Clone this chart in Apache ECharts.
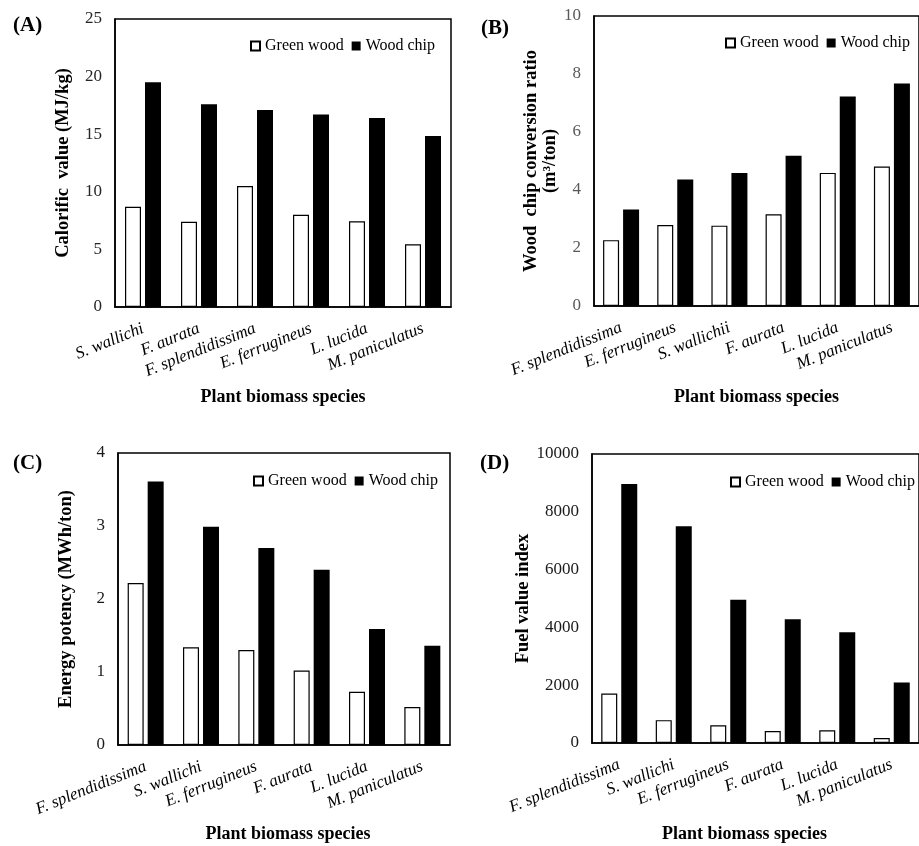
<!DOCTYPE html>
<html>
<head>
<meta charset="utf-8">
<script src="https://cdn.jsdelivr.net/npm/echarts@6/dist/echarts.min.js"></script>
<style>
html,body{margin:0;padding:0;background:#fff;}
#chart{width:919px;height:846px;}
</style>
</head>
<body>
<div id="chart"></div>
<script>
// ---- Data ----
const catsA = ['S. wallichi', 'F. aurata', 'F. splendidissima', 'E. ferrugineus', 'L. lucida', 'M. paniculatus'];
const greenA = [8.7, 7.4, 10.5, 8.0, 7.45, 5.45];
const chipA = [19.5, 17.6, 17.1, 16.7, 16.4, 14.85];

const catsB = ['F. splendidissima', 'E. ferrugineus', 'S. wallichii', 'F. aurata', 'L. lucida', 'M. paniculatus'];
const greenB = [2.27, 2.79, 2.77, 3.16, 4.59, 4.81];
const chipB = [3.33, 4.36, 4.59, 5.18, 7.22, 7.67];

const catsC = ['F. splendidissima', 'S. wallichi', 'E. ferrugineus', 'F. aurata', 'L. lucida', 'M. paniculatus'];
const greenC = [2.22, 1.34, 1.30, 1.02, 0.73, 0.52];
const chipC = [3.61, 2.99, 2.70, 2.40, 1.59, 1.36];

const catsD = ['F. splendidissima', 'S. wallichi', 'E. ferrugineus', 'F. aurata', 'L. lucida', 'M. paniculatus'];
const greenD = [1710, 790, 615, 415, 440, 175];
const chipD = [8960, 7500, 4960, 4280, 3830, 2095];

const seriesNames = ['Green wood', 'Wood chip'];
const panelLabels = ['(A)', '(B)', '(C)', '(D)'];
const yTitles = ['Calorific  value (MJ/kg)', 'Wood  chip conversion ratio\n(m\u00B3/ton)', 'Energy potency (MWh/ton)', 'Fuel value index'];
const xTitle = 'Plant biomass species';
const yMax = [25, 10, 4, 10000];
const yStep = [5, 2, 1, 2000];

// ---- Layout / style ----
const FONT = "'Liberation Serif', 'Times New Roman', serif";
const panels = [
  {cats: catsA, g: greenA, c: chipA, grid: {left: 115, top: 19, width: 336, height: 288}, yGap: 42, xGap: 81, xPad: [0, 0, 0, 0], tickColor: '#262626',
   legend: {left: 250, top: 38}, label: {left: 13, top: 15}},
  {cats: catsB, g: greenB, c: chipB, grid: {left: 594, top: 16, width: 336, height: 290}, yGap: 27, xGap: 82, xPad: [0, 0, 0, 0], tickColor: '#595959',
   legend: {left: 725, top: 35}, label: {left: 481, top: 18}},
  {cats: catsC, g: greenC, c: chipC, grid: {left: 118, top: 453, width: 332, height: 292}, yGap: 42, xGap: 80, xPad: [0, 0, 0, 8], tickColor: '#1a1a1a',
   legend: {left: 253, top: 473}, label: {left: 13, top: 453}},
  {cats: catsD, g: greenD, c: chipD, grid: {left: 592, top: 454, width: 333, height: 289}, yGap: 51, xGap: 82, xPad: [0, 22, 0, 0], tickColor: '#1a1a1a',
   legend: {left: 730, top: 474}, label: {left: 480, top: 453}}
];

const option = {
  animation: false,
  backgroundColor: '#fff',
  title: [], grid: [], xAxis: [], yAxis: [], legend: [], series: []
};

panels.forEach((p, i) => {
  option.title.push({
    text: panelLabels[i], left: p.label.left, top: p.label.top, padding: 0,
    textStyle: {fontFamily: FONT, fontWeight: 'bold', fontSize: 21, color: '#000'}
  });
  option.grid.push(Object.assign({show: true, borderColor: '#000', borderWidth: 1.5, backgroundColor: 'transparent'}, p.grid));
  option.xAxis.push({
    type: 'category', gridIndex: i, data: p.cats,
    axisLine: {show: true, lineStyle: {color: '#000', width: 1.5}},
    axisTick: {show: false},
    axisLabel: {interval: 0, rotate: 22, margin: 21, fontFamily: FONT, fontStyle: 'italic', fontSize: 17, color: '#000'},
    name: xTitle, nameLocation: 'middle', nameGap: p.xGap,
    nameTextStyle: {fontFamily: FONT, fontWeight: 'bold', fontSize: 18, color: '#000', padding: p.xPad}
  });
  option.yAxis.push({
    type: 'value', gridIndex: i, min: 0, max: yMax[i], interval: yStep[i],
    axisLine: {show: true, lineStyle: {color: '#000', width: 1.5}},
    axisTick: {show: false}, splitLine: {show: false},
    axisLabel: {margin: 13, fontFamily: FONT, fontSize: 17, color: p.tickColor, formatter: v => String(v)},
    name: yTitles[i], nameLocation: 'middle', nameGap: p.yGap,
    nameTextStyle: {fontFamily: FONT, fontWeight: 'bold', fontSize: 18.5, color: '#000', lineHeight: 19}
  });
  option.legend.push({
    left: p.legend.left, top: p.legend.top, padding: 0, itemGap: 8,
    itemWidth: 9, itemHeight: 9, icon: 'rect', data: seriesNames,
    selectedMode: false,
    textStyle: {fontFamily: FONT, fontSize: 16, color: '#000', lineHeight: 16}
  });
  option.series.push({
    name: seriesNames[0], type: 'bar', xAxisIndex: i, yAxisIndex: i, data: p.g,
    barWidth: 16, barGap: '25%',
    itemStyle: {color: '#fff', borderColor: '#000', borderWidth: 1.2}
  });
  option.series.push({
    name: seriesNames[1], type: 'bar', xAxisIndex: i, yAxisIndex: i, data: p.c,
    barWidth: 16, barGap: '25%',
    itemStyle: {color: '#000', borderColor: '#000', borderWidth: 0}
  });
});

const chart = echarts.init(document.getElementById('chart'), null, {renderer: 'canvas'});
chart.setOption(option);
</script>
</body>
</html>
